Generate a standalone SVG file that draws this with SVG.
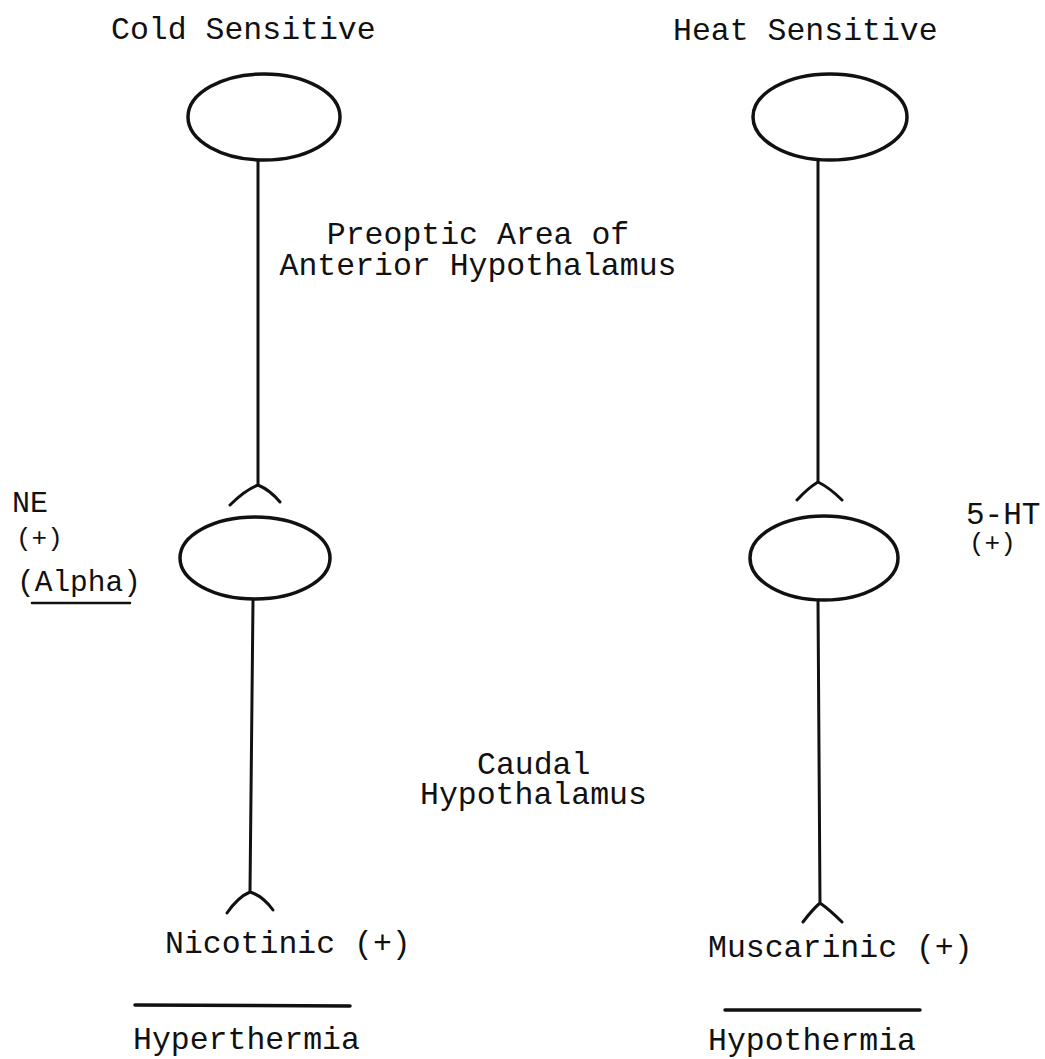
<svg xmlns="http://www.w3.org/2000/svg" width="1045" height="1059" viewBox="0 0 1045 1059">
<style>
.t{font-family:"Liberation Mono","DejaVu Sans Mono",monospace;fill:#111;font-size:31.5px}
.s{font-family:"Liberation Mono","DejaVu Sans Mono",monospace;fill:#111}
.n{fill:none;stroke:#111;stroke-width:3.5}
.c{fill:none;stroke:#111;stroke-width:3;stroke-linecap:round;stroke-linejoin:round}
</style>
<rect width="1045" height="1059" fill="#fff"/>
<g id="cold-top"><ellipse class="n" cx="264" cy="117" rx="76" ry="43"/></g>
<g id="heat-top"><ellipse class="n" cx="830" cy="117" rx="77" ry="43"/></g>
<g id="cold-mid"><ellipse class="n" cx="255" cy="558" rx="75" ry="41"/></g>
<g id="heat-mid"><ellipse class="n" cx="824" cy="558" rx="74" ry="42"/></g>
<g id="connectors">
<path class="c" d="M258,160 L258,485 M230,505 Q245,490 258,485 Q270,490 280,502"/>
<path class="c" d="M818,160 L818,482 M797,500 Q808,488 818,482 Q830,488 842,500"/>
<path class="c" d="M253,600 L250,892 M227,913 Q238,897 250,892 Q263,896 273,910"/>
<path class="c" d="M818,600 L820,903 M803,922 Q812,910 820,903 Q830,910 842,922"/>
<path class="c" d="M135,1005 L350,1006" style="stroke-width:3.5"/>
<path class="c" d="M725,1010 L920,1010" style="stroke-width:3.5"/>
</g>
<g id="labels">
<text class="t" x="111" y="39">Cold Sensitive</text>
<text class="t" x="673" y="40">Heat Sensitive</text>
<text class="t" x="478" y="244" text-anchor="middle">Preoptic Area of</text>
<text class="t" x="478" y="275" text-anchor="middle">Anterior Hypothalamus</text>
<text class="s" x="12" y="512" font-size="30">NE</text>
<text class="s" x="16" y="546" font-size="26">(+)</text>
<text class="s" x="17" y="591" font-size="29.5">(Alpha)</text>
<path class="c" d="M32,603 L130,603" style="stroke-width:2.5"/>
<text class="s" x="966" y="524" font-size="31">5-HT</text>
<text class="s" x="969" y="551" font-size="26">(+)</text>
<text class="t" x="477" y="774">Caudal</text>
<text class="t" x="420" y="804">Hypothalamus</text>
<text class="t" x="165" y="953">Nicotinic (+)</text>
<text class="t" x="708" y="957">Muscarinic (+)</text>
<text class="t" x="133" y="1049">Hyperthermia</text>
<text class="t" x="708" y="1050">Hypothermia</text>
</g>
</svg>
